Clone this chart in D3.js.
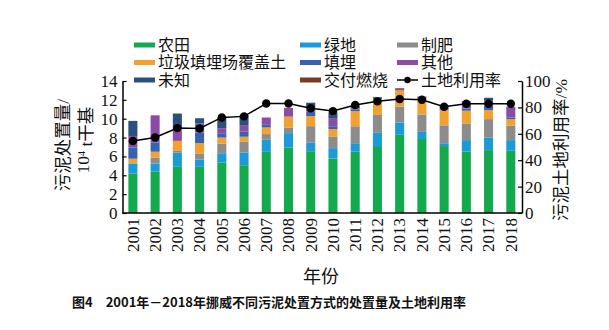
<!DOCTYPE html>
<html>
<head>
<meta charset="utf-8">
<script src="https://cdn.jsdelivr.net/npm/d3@7"></script>
<style>
  html, body { margin: 0; padding: 0; background: #fff; }
  svg { display: block; }
  .num { font-family: "Liberation Serif", "Times New Roman", serif; }
  .cjk { font-family: "Liberation Serif", "Noto Sans CJK SC", serif; }
</style>
</head>
<body>
<svg id="chart" width="609" height="330"></svg>
<script>
// Sludge disposal in Norway, 2001–2018 (10^4 t dry solids) and land-use rate (%)
const years = ["2001","2002","2003","2004","2005","2006","2007","2008","2009",
               "2010","2011","2012","2013","2014","2015","2016","2017","2018"];

const farmland     = [4.2, 4.4, 4.9, 4.9, 5.35, 5.07, 6.49, 6.95, 6.55, 5.78, 6.5, 7.0, 8.3, 7.85, 7.1, 6.52, 6.67, 6.6];
const greenland    = [1.06, 0.85, 1.5, 0.78, 0.99, 1.35, 1.28, 1.52, 0.9, 1.1, 0.9, 1.5, 1.3, 0.75, 0.3, 1.21, 1.34, 1.13];
const fertilizer   = [0, 0.64, 0.18, 0.64, 1.03, 1.17, 0.6, 0.6, 1.76, 1.24, 1.8, 1.9, 1.68, 1.85, 1.9, 1.77, 1.95, 1.52];
const landfillCover= [0.5, 0.61, 1.07, 1.1, 0.63, 0.5, 0.7, 1.13, 1.07, 0.78, 1.6, 1.7, 1.72, 1.6, 1.65, 1.35, 0.96, 0.71];
const landfill     = [1.17, 0.99, 0, 1.1, 0.46, 0.53, 0.28, 0.05, 0.45, 0.3, 0.2, 0.12, 0, 0.15, 0.2, 0.25, 0.5, 0.18];
const other        = [1.24, 2.87, 1.41, 0.96, 0.53, 0.64, 0.78, 0.9, 0.35, 0.8, 0.1, 0, 0.15, 0.05, 0, 0.75, 0.5, 1.13];
const unknown      = [1.6, 0, 1.49, 0.57, 1.14, 1.13, 0, 0, 0.62, 0.67, 0.3, 0.08, 0, 0.1, 0.25, 0, 0.3, 0];
const incineration = [0, 0, 0, 0, 0, 0, 0, 0, 0, 0, 0, 0, 0.08, 0, 0, 0, 0, 0];
const landUseRate  = [54.6, 57.2, 64.3, 64.0, 72.4, 73.2, 83.0, 83.0, 79.4, 77.2, 81.8, 84.6, 86.4, 85.8, 80.5, 82.8, 82.8, 82.8];

const leftTicks  = [0, 2, 4, 6, 8, 10, 12, 14];
const rightTicks = [0, 20, 40, 60, 80, 100];

const seriesNames = ["农田","绿地","制肥","垃圾填埋场覆盖土","填埋","其他","未知","交付燃烧"];
const seriesData  = [farmland, greenland, fertilizer, landfillCover, landfill, other, unknown, incineration];
const seriesColors= ["#14a94f","#1a9bd7","#8c8c8c","#f2a02e","#3563b2","#8a4ca6","#2d4f7c","#7a3a28"];
const lineName = "土地利用率";

const svg = d3.select("#chart");

const x = d3.scaleBand().domain(years).range([121.7, 522]).paddingInner(0.593).paddingOuter(0.3);
const yL = d3.scaleLinear().domain([0, 14]).range([213, 81]);
const yR = d3.scaleLinear().domain([0, 100]).range([213, 81]);

// stacked bars
const rows = years.map((yr, i) => {
  const r = { year: yr };
  seriesNames.forEach((n, k) => { r[n] = seriesData[k][i]; });
  return r;
});
const stacked = d3.stack().keys(seriesNames)(rows);

svg.append("g").selectAll("g")
  .data(stacked)
  .join("g")
  .attr("fill", (d, k) => seriesColors[k])
  .selectAll("rect")
  .data(d => d)
  .join("rect")
  .attr("x", d => x(d.data.year))
  .attr("width", x.bandwidth())
  .attr("y", d => yL(d[1]))
  .attr("height", d => Math.max(0, yL(d[0]) - yL(d[1])));

// axes
const axisL = d3.axisLeft(yL).tickValues(leftTicks).tickSizeInner(-4).tickSizeOuter(0).tickPadding(5);
const gL = svg.append("g").attr("transform", "translate(122.5,0)").call(axisL);
const axisR = d3.axisRight(yR).tickValues(rightTicks).tickSizeInner(-4).tickSizeOuter(0).tickPadding(3);
const gR = svg.append("g").attr("transform", "translate(522,0)").call(axisR);
const axisB = d3.axisBottom(x).tickSize(0).tickPadding(4);
const gB = svg.append("g").attr("transform", "translate(0,213)").call(axisB);

[gL, gR, gB].forEach(g => {
  g.select(".domain").attr("stroke", "#000").attr("stroke-width", 1.5);
  g.selectAll(".tick line").attr("stroke", "#000").attr("stroke-width", 1.2);
  g.selectAll("text").attr("class", "num").attr("fill", "#111").style("font-size", "17px");
});
gB.select(".domain").attr("d", "M122.5,0H522");
gB.selectAll(".tick text")
  .attr("transform", "rotate(-90)")
  .attr("text-anchor", "end")
  .attr("dy", "0.34em")
  .attr("x", -5)
  .attr("y", 0);

// land-use rate line
const line = d3.line().x((d, i) => x(years[i]) + x.bandwidth() / 2).y(d => yR(d));
svg.append("path").datum(landUseRate)
  .attr("d", line).attr("fill", "none").attr("stroke", "#000").attr("stroke-width", 1.5);
svg.append("g").selectAll("circle").data(landUseRate).join("circle")
  .attr("cx", (d, i) => x(years[i]) + x.bandwidth() / 2)
  .attr("cy", d => yR(d))
  .attr("r", 4.2)
  .attr("fill", "#000");

// axis titles
svg.append("text").attr("class", "cjk")
  .attr("transform", "translate(69,145) rotate(-90)")
  .attr("text-anchor", "middle").style("font-size", "17.5px").attr("fill", "#111")
  .text("污泥处置量/");
const t2 = svg.append("text").attr("class", "cjk")
  .attr("transform", "translate(89,140) rotate(-90)")
  .attr("text-anchor", "middle").style("font-size", "17.5px").attr("fill", "#111");
t2.append("tspan").text("10");
t2.append("tspan").attr("dy", "-0.45em").style("font-size", "10px").text("4");
t2.append("tspan").attr("dy", "0.45em").text(" t干基");

svg.append("text").attr("class", "cjk")
  .attr("transform", "translate(567,150) rotate(-90)")
  .attr("text-anchor", "middle").style("font-size", "17.5px").attr("fill", "#111")
  .text("污泥土地利用率/%");

svg.append("text").attr("class", "cjk")
  .attr("x", 321).attr("y", 283)
  .attr("text-anchor", "middle").style("font-size", "18px").attr("fill", "#111")
  .text("年份");

// legend
const legendCols = [134, 300, 397];
const legendRows = [45, 62.5, 80];
const legend = svg.append("g");
seriesNames.forEach((n, k) => {
  const cx = legendCols[k % 3], cy = legendRows[Math.floor(k / 3)];
  legend.append("rect").attr("x", cx).attr("y", cy - 2.5).attr("width", 21).attr("height", 5)
    .attr("fill", seriesColors[k]);
  legend.append("text").attr("class", "cjk").attr("x", cx + 24).attr("y", cy)
    .attr("dy", "0.36em").style("font-size", "16px").attr("fill", "#111").text(n);
});
{
  const cx = legendCols[2], cy = legendRows[2];
  legend.append("line").attr("x1", cx).attr("x2", cx + 21).attr("y1", cy).attr("y2", cy)
    .attr("stroke", "#000").attr("stroke-width", 1.5);
  legend.append("circle").attr("cx", cx + 10.5).attr("cy", cy).attr("r", 3.2).attr("fill", "#000");
  legend.append("text").attr("class", "cjk").attr("x", cx + 24).attr("y", cy)
    .attr("dy", "0.36em").style("font-size", "16px").attr("fill", "#111").text(lineName);
}

// caption
svg.append("text")
  .attr("x", 72).attr("y", 307)
  .style("font-family", "'Noto Sans CJK SC', sans-serif")
  .style("font-size", "13px").style("font-weight", "bold").attr("fill", "#111")
  .attr("xml:space", "preserve")
  .text("图4　2001年－2018年挪威不同污泥处置方式的处置量及土地利用率");
</script>
</body>
</html>
